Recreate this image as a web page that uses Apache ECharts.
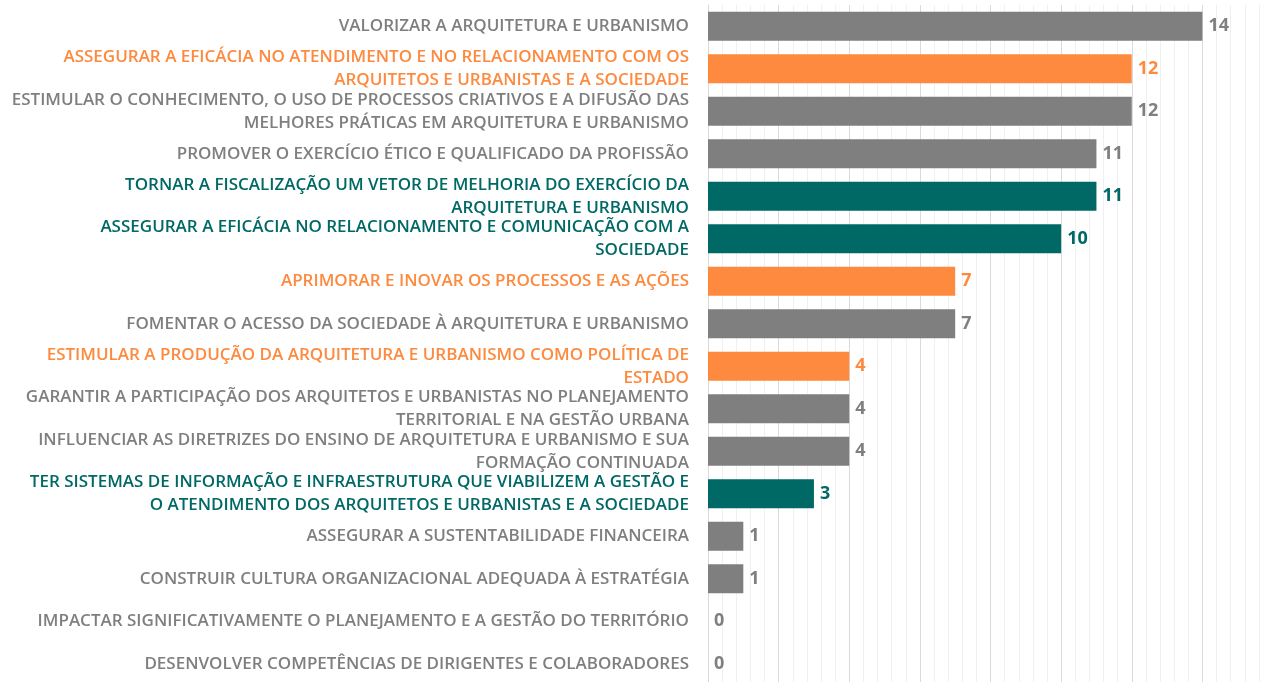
<!DOCTYPE html>
<html lang="pt-BR" style="height: 100%">
<head>
  <meta charset="utf-8">
</head>
<body style="height: 100%; margin: 0; background: #fff; overflow: hidden">
  <!-- the axis runs to 16, a little past the right edge of the picture -->
  <div id="container" style="width: 1273px; height: 685px"></div>
  <script type="text/javascript" src="https://cdn.jsdelivr.net/npm/echarts@6/dist/echarts.min.js"></script>
  <script type="text/javascript">
    // objetivos estratégicos (top to bottom)
    var categories = [
      'VALORIZAR A ARQUITETURA E URBANISMO',
      'ASSEGURAR A EFICÁCIA NO ATENDIMENTO E NO RELACIONAMENTO COM OS\nARQUITETOS E URBANISTAS E A SOCIEDADE',
      'ESTIMULAR O CONHECIMENTO, O USO DE PROCESSOS CRIATIVOS E A DIFUSÃO DAS\nMELHORES PRÁTICAS EM ARQUITETURA E URBANISMO',
      'PROMOVER O EXERCÍCIO ÉTICO E QUALIFICADO DA PROFISSÃO',
      'TORNAR A FISCALIZAÇÃO UM VETOR DE MELHORIA DO EXERCÍCIO DA\nARQUITETURA E URBANISMO',
      'ASSEGURAR A EFICÁCIA NO RELACIONAMENTO E COMUNICAÇÃO COM A\nSOCIEDADE',
      'APRIMORAR E INOVAR OS PROCESSOS E AS AÇÕES',
      'FOMENTAR O ACESSO DA SOCIEDADE À ARQUITETURA E URBANISMO',
      'ESTIMULAR A PRODUÇÃO DA ARQUITETURA E URBANISMO COMO POLÍTICA DE\nESTADO',
      'GARANTIR A PARTICIPAÇÃO DOS ARQUITETOS E URBANISTAS NO PLANEJAMENTO\nTERRITORIAL E NA GESTÃO URBANA',
      'INFLUENCIAR AS DIRETRIZES DO ENSINO DE ARQUITETURA E URBANISMO E SUA\nFORMAÇÃO CONTINUADA',
      'TER SISTEMAS DE INFORMAÇÃO E INFRAESTRUTURA QUE VIABILIZEM A GESTÃO E\nO ATENDIMENTO DOS ARQUITETOS E URBANISTAS E A SOCIEDADE',
      'ASSEGURAR A SUSTENTABILIDADE FINANCEIRA',
      'CONSTRUIR CULTURA ORGANIZACIONAL ADEQUADA À ESTRATÉGIA',
      'IMPACTAR SIGNIFICATIVAMENTE O PLANEJAMENTO E A GESTÃO DO TERRITÓRIO',
      'DESENVOLVER COMPETÊNCIAS DE DIRIGENTES E COLABORADORES'
    ];
    var values = [14, 12, 12, 11, 11, 10, 7, 7, 4, 4, 4, 3, 1, 1, 0, 0];
    var groups = ['cinza', 'laranja', 'cinza', 'cinza', 'verde', 'verde', 'laranja', 'cinza',
                  'laranja', 'cinza', 'cinza', 'verde', 'cinza', 'cinza', 'cinza', 'cinza'];

    var groupColors = { cinza: '#7f7f7f', laranja: '#fd8a3e', verde: '#006966' };
    var font = '"Open Sans", sans-serif';

    var dom = document.getElementById('container');
    var myChart = echarts.init(dom, null, { renderer: 'canvas' });

    var option = {
      backgroundColor: '#ffffff',
      animation: false,
      grid: { left: 708, right: 0, top: 5, bottom: 0, containLabel: false },
      xAxis: {
        type: 'value',
        min: 0,
        max: 16,
        interval: 2,
        axisLabel: { show: false },
        axisLine: { show: false },
        axisTick: { show: false },
        splitLine: { show: true, lineStyle: { color: '#dadada', width: 1 } },
        minorTick: { show: false, splitNumber: 5 },
        minorSplitLine: { show: true, lineStyle: { color: '#f0f0f0', width: 1 } }
      },
      yAxis: {
        type: 'category',
        inverse: true,
        data: categories,
        axisLine: { show: true, lineStyle: { color: '#d9d9d9' } },
        axisTick: { show: false },
        axisLabel: {
          margin: 19,
          fontFamily: font,
          fontWeight: 600,
          fontSize: 17,
          lineHeight: 23,
          align: 'right',
          color: function (value, index) {
            return groupColors[groups[index]];
          }
        }
      },
      series: [
        {
          type: 'bar',
          barCategoryGap: '32%',
          data: values.map(function (v, i) {
            var c = groupColors[groups[i]];
            return {
              value: v,
              itemStyle: { color: c },
              label: { color: c }
            };
          }),
          label: {
            show: true,
            position: 'right',
            distance: 6,
            fontFamily: font,
            fontWeight: 'bold',
            fontSize: 18
          }
        }
      ]
    };

    myChart.setOption(option);
    window.addEventListener('resize', myChart.resize);
  </script>
</body>
</html>
